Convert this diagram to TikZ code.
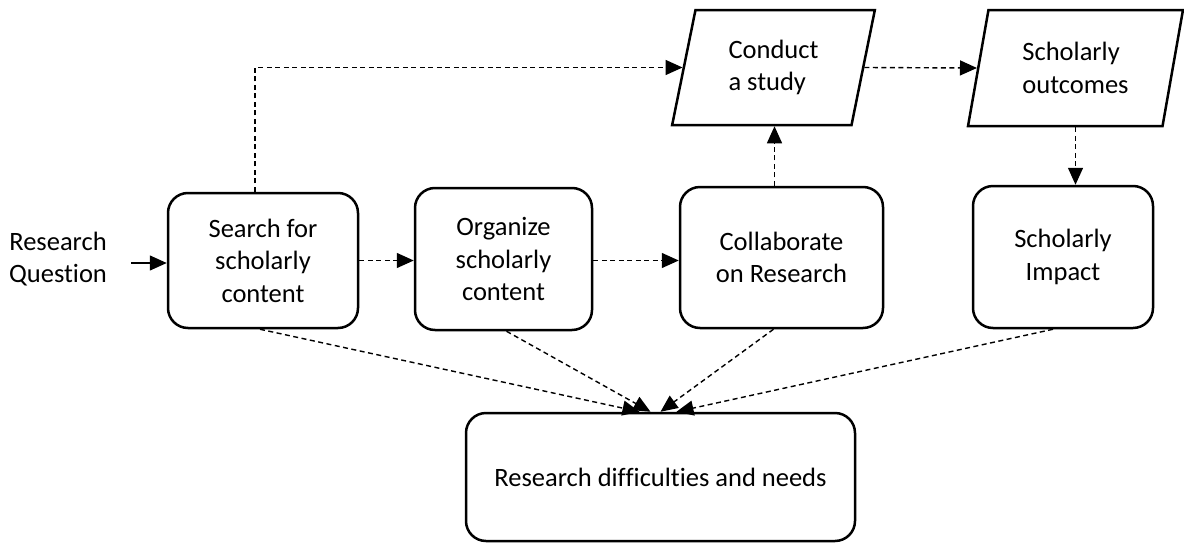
\documentclass[tikz,border=0pt]{standalone}
\usepackage{fontspec}
\setmainfont{Carlito}[Ligatures=NoCommon]
\usetikzlibrary{shapes.geometric,arrows.meta}
\begin{document}
\begin{tikzpicture}[x=1pt,y=-1pt,
  txt/.style={font=\fontsize{26.5}{32.5}\selectfont, align=center, inner sep=0pt},
  rbox/.style={txt, draw, line width=2.5pt, rounded corners=20pt},
  para/.style={txt, align=left, draw, line width=2.5pt, trapezium, trapezium stretches=true,
    trapezium left angle=76.3, trapezium right angle=103.7, minimum width=203pt, minimum height=115pt},
  dconn/.style={line width=1.4pt, dash pattern=on 5pt off 3.5pt, -{Triangle[length=17pt,width=15pt]}},
  sconn/.style={line width=1.4pt, -{Triangle[length=17pt,width=15pt]}}
]
\useasboundingbox (0,0) rectangle (1184,544);
\node[txt] (rq) at (58,259) {Research\\Question};
\node[rbox, minimum width=190pt, minimum height=135pt] (S) at (263,260.5) {Search for\\scholarly\\content};
\node[rbox, minimum width=177pt, minimum height=142pt] (Or) at (503.5,259) {Organize\\scholarly\\content};
\node[rbox, minimum width=203pt, minimum height=141pt] (Co) at (781.5,257.5) {Collaborate\\on Research};
\node[rbox, minimum width=180pt, minimum height=142pt] (I) at (1063,257) {Scholarly\\Impact};
\node[rbox, minimum width=389pt, minimum height=128pt] (R) at (660.5,477) {Research difficulties and needs};
\node[para] (C) at (773.5,67.5) {Conduct\\a study};
\node[para, minimum width=215pt, minimum height=116pt] (O) at (1075.5,68) {Scholarly\\outcomes};

\draw[sconn] ([xshift=24pt,yshift=-4pt]rq.east) -- ([yshift=-4pt]rq.east -| S.west);
\draw[dconn] ([xshift=-8pt]S.north) |- (C.west);
\draw[dconn] (C.east) -- (O.west);
\draw[dconn] (O.south) -- (O.south |- I.north);
\draw[dconn] ([xshift=-7pt]Co.north) -- ([xshift=-7pt]Co.north |- C.south);
\draw[dconn] (S.east) -- (Or.west |- S.east);
\draw[dconn] (Or.east |- S.east) -- (Co.west |- S.east);
\draw[dconn] ([xshift=-3pt]S.south) -- ([xshift=-21pt]R.north);
\draw[dconn] ([xshift=3pt]Or.south) -- ([xshift=-10pt]R.north);
\draw[dconn] ([xshift=-8pt]Co.south) -- ([xshift=0pt]R.north);
\draw[dconn] ([xshift=-10pt]I.south) -- ([xshift=16pt]R.north);
\end{tikzpicture}
\end{document}
